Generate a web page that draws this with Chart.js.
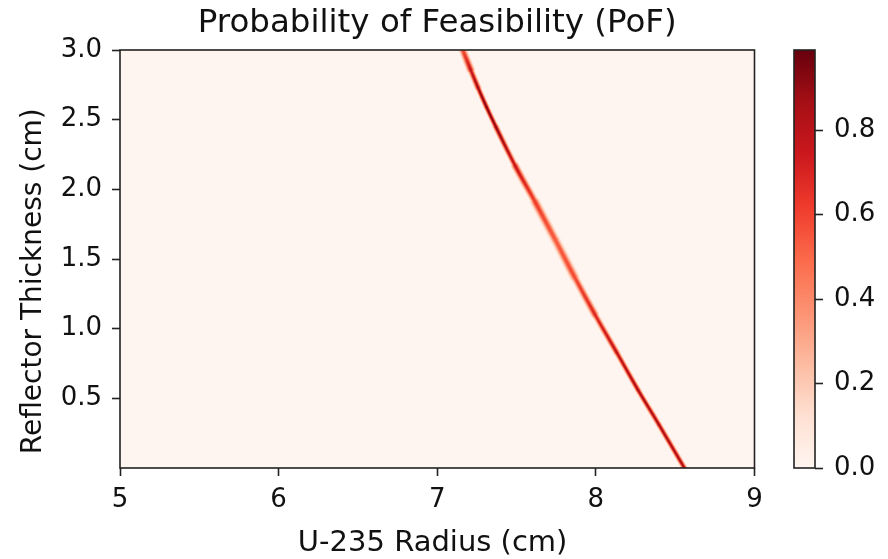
<!DOCTYPE html>
<html>
<head>
<meta charset="utf-8">
<title>Probability of Feasibility (PoF)</title>
<script src="https://cdn.jsdelivr.net/npm/chart.js@4.4.1/dist/chart.umd.min.js"></script>
<style>
  html, body { margin: 0; padding: 0; background: #fff; }
  #wrap { position: relative; width: 888px; height: 559px; }
  #wrap canvas { position: absolute; left: 0; top: 0; }
</style>
</head>
<body>
<div id="wrap">
  <canvas id="pofChart" width="888" height="559"></canvas>
  <canvas id="barChart" width="888" height="559"></canvas>
</div>
<script>
// ridge of the PoF map: U-235 radius (cm) at each reflector thickness (cm)
var thickness = [3.00, 2.86, 2.73, 2.59, 2.45, 2.17, 1.91, 1.64, 1.37, 1.10, 0.83, 0.56, 0.31, 0.00];
var radius    = [7.161, 7.210, 7.257, 7.311, 7.369, 7.491, 7.617, 7.743, 7.866, 7.995, 8.131, 8.266, 8.398, 8.558];
// peak PoF on the ridge, and how far it spreads across radius (cm)
var peakPoF   = [0.62, 0.82, 0.93, 0.99, 0.97, 0.82, 0.66, 0.57, 0.62, 0.74, 0.85, 0.90, 0.91, 0.90];
var spreadCm  = [0.0160, 0.0120, 0.0102, 0.0096, 0.0099, 0.0122, 0.0160, 0.0178, 0.0160, 0.0128, 0.0110, 0.0105, 0.0104, 0.0106];

var xTicks  = [5, 6, 7, 8, 9];
var yTicks  = [0.5, 1.0, 1.5, 2.0, 2.5, 3.0];
var cbTicks = [0.0, 0.2, 0.4, 0.6, 0.8];

var vmax = Math.max.apply(null, peakPoF);

// matplotlib "Reds"
var redsStops = [
  [255, 245, 240], [254, 224, 210], [252, 187, 161], [252, 146, 114], [251, 106, 74],
  [239, 59, 44], [203, 24, 29], [165, 15, 21], [103, 0, 13]
];
function reds(t) {
  t = Math.max(0, Math.min(1, t));
  var p = t * (redsStops.length - 1);
  var i = Math.min(Math.floor(p), redsStops.length - 2);
  var f = p - i;
  var a = redsStops[i], b = redsStops[i + 1];
  return 'rgb(' + Math.round(a[0] + (b[0] - a[0]) * f) + ',' +
    Math.round(a[1] + (b[1] - a[1]) * f) + ',' +
    Math.round(a[2] + (b[2] - a[2]) * f) + ')';
}

// the ridge is drawn as stacked strokes, wide & pale under narrow & dark
// k = half width in units of spread, frac = share of the peak value
var bandLayers = [
  { k: 0.57, frac: 0.93 },
  { k: 1.01, frac: 0.72 },
  { k: 1.45, frac: 0.47 },
  { k: 2.06, frac: 0.23 }
];

Chart.defaults.font.family = "'DejaVu Sans', sans-serif";
Chart.defaults.color = '#111';

var ridge = radius.map(function (r, i) { return { x: r, y: thickness[i] }; });

function segWidth(ctx, layer) {
  var xs = ctx.chart.scales.x;
  var pxPerCm = Math.abs(xs.getPixelForValue(1) - xs.getPixelForValue(0));
  var dx = ctx.p1.x - ctx.p0.x, dy = ctx.p1.y - ctx.p0.y;
  var len = Math.sqrt(dx * dx + dy * dy) || 1;
  var s = (spreadCm[ctx.p0DataIndex] + spreadCm[ctx.p1DataIndex]) / 2;
  return Math.max(0.3, 2 * layer.k * s * pxPerCm * Math.abs(dy) / len);
}

function segColor(ctx, layer) {
  var c0 = reds(layer.frac * peakPoF[ctx.p0DataIndex] / vmax);
  var c1 = reds(layer.frac * peakPoF[ctx.p1DataIndex] / vmax);
  if (!isFinite(ctx.p0.y) || !isFinite(ctx.p1.y)) return c0;
  var g = ctx.chart.ctx.createLinearGradient(ctx.p0.x, ctx.p0.y, ctx.p1.x, ctx.p1.y);
  g.addColorStop(0, c0);
  g.addColorStop(1, c1);
  return g;
}

var datasets = bandLayers.map(function (layer) {
  return {
    data: ridge,
    borderWidth: 1,
    borderCapStyle: 'round',
    pointRadius: 0,
    cubicInterpolationMode: 'monotone',
    segment: {
      borderColor: function (ctx) { return segColor(ctx, layer); },
      borderWidth: function (ctx) { return segWidth(ctx, layer); }
    }
  };
});

var axisLine = '#222';
var frame = {
  id: 'frame',
  beforeDatasetsDraw: function (chart, args, opts) {
    if (!opts.fill) return;
    var a = chart.chartArea, c = chart.ctx;
    c.save();
    c.fillStyle = opts.fill;
    c.fillRect(a.left, a.top, a.right - a.left, a.bottom - a.top);
    c.restore();
  },
  afterDatasetsDraw: function (chart) {
    var a = chart.chartArea, c = chart.ctx;
    c.save();
    c.strokeStyle = axisLine;
    c.lineWidth = 1.6;
    c.strokeRect(a.left, a.top, a.right - a.left, a.bottom - a.top);
    c.restore();
  }
};

function fixedTicks(list) {
  return function (scale) { scale.ticks = list.map(function (v) { return { value: v }; }); };
}

var tickFont = { size: 26 };
var labelFont = { size: 28, lineHeight: 1.1 };

new Chart(document.getElementById('pofChart'), {
  type: 'line',
  data: { datasets: datasets },
  plugins: [frame],
  options: {
    responsive: false,
    animation: false,
    layout: { padding: { left: 0, top: 0, right: 133.5, bottom: 0 } },
    plugins: {
      legend: { display: false },
      tooltip: { enabled: false },
      frame: { fill: reds(0) }
    },
    scales: {
      // top axis only carries the title so it centres over the plot
      top: {
        type: 'linear',
        position: 'top',
        min: 5, max: 9,
        afterFit: function (s) { s.height = 50; },
        ticks: { display: false },
        grid: { display: false, drawTicks: false },
        border: { display: false },
        title: {
          display: true,
          text: 'Probability of Feasibility (PoF)',
          font: { size: 32.5, lineHeight: 1.2 },
          padding: { top: 4.5, bottom: 0 }
        }
      },
      x: {
        type: 'linear',
        min: 5, max: 9,
        afterBuildTicks: fixedTicks(xTicks),
        afterFit: function (s) { s.height = 91; },
        ticks: { font: tickFont, padding: 8.5, maxRotation: 0 },
        grid: { drawOnChartArea: false, tickLength: 8, tickColor: axisLine, tickWidth: 1.6 },
        border: { display: false },
        title: {
          display: true,
          text: 'U-235 Radius (cm)\u00a0',
          font: { size: 29, lineHeight: 1.1 },
          padding: { top: 0, bottom: 0 }
        }
      },
      y: {
        type: 'linear',
        min: 0, max: 3,
        afterBuildTicks: fixedTicks(yTicks),
        afterFit: function (s) { s.width = 120; },
        ticks: { font: tickFont, padding: 10, callback: function (v) { return v.toFixed(1); } },
        grid: { drawOnChartArea: false, tickLength: 8, tickColor: axisLine, tickWidth: 1.6 },
        border: { display: false },
        title: {
          display: true,
          text: 'Reflector Thickness (cm)\u00a0\u00a0\u00a0\u00a0\u00a0',
          font: labelFont,
          padding: { top: 18, bottom: 0 }
        }
      }
    }
  }
});

// colour bar
new Chart(document.getElementById('barChart'), {
  type: 'bar',
  data: {
    labels: ['PoF'],
    datasets: [{
      data: [vmax],
      borderWidth: 0,
      barPercentage: 1,
      categoryPercentage: 1,
      backgroundColor: function (ctx) {
        var area = ctx.chart.chartArea, ys = ctx.chart.scales.y;
        if (!area || !ys) return reds(0);
        var y0 = ys.getPixelForValue(0), y1 = ys.getPixelForValue(vmax);
        if (!isFinite(y0) || !isFinite(y1)) return reds(0);
        var g = ctx.chart.ctx.createLinearGradient(0, y0, 0, y1);
        redsStops.forEach(function (c, i) {
          g.addColorStop(i / (redsStops.length - 1), 'rgb(' + c.join(',') + ')');
        });
        return g;
      }
    }]
  },
  plugins: [frame],
  options: {
    responsive: false,
    animation: false,
    layout: { padding: { left: 794, top: 50, right: 0, bottom: 91 } },
    plugins: { legend: { display: false }, tooltip: { enabled: false } },
    scales: {
      x: { display: false },
      y: {
        position: 'right',
        min: 0, max: vmax,
        afterBuildTicks: fixedTicks(cbTicks),
        afterFit: function (s) { s.width = 73; },
        ticks: { font: tickFont, padding: 11, callback: function (v) { return v.toFixed(1); } },
        grid: { drawOnChartArea: false, tickLength: 8, tickColor: axisLine, tickWidth: 1.6 },
        border: { display: false }
      }
    }
  }
});
</script>
</body>
</html>
